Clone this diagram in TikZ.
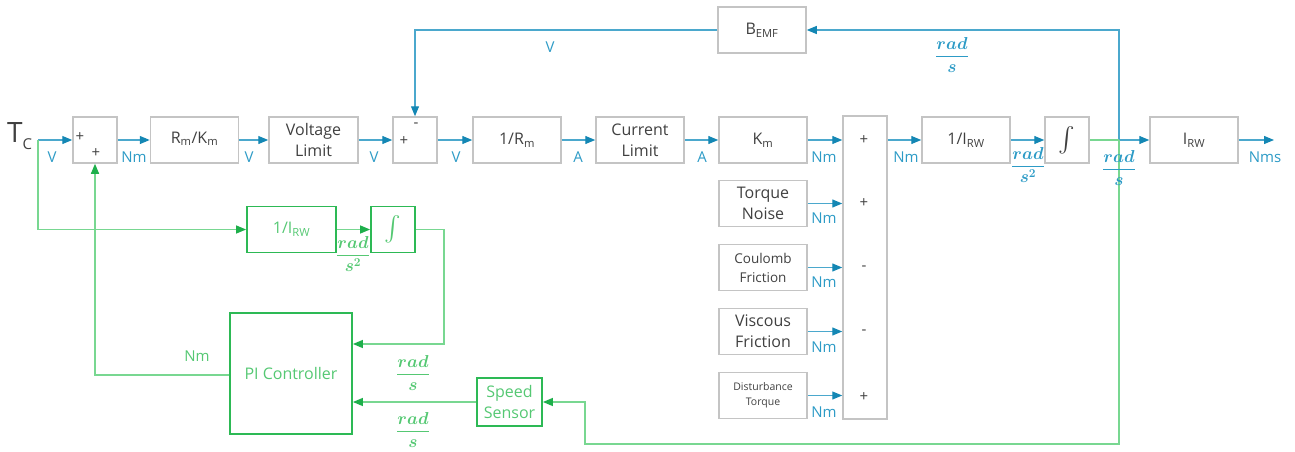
\documentclass[tikz,border=0pt]{standalone}
\usepackage{fontspec}
\setmainfont{Open Sans}
\usepackage{amsmath}
\usepackage{bm}
\usetikzlibrary{arrows.meta}
\definecolor{bline}{RGB}{75,168,205}
\definecolor{btip}{RGB}{20,135,180}
\definecolor{btext}{RGB}{45,155,198}
\definecolor{gline}{RGB}{120,215,145}
\definecolor{gtip}{RGB}{30,175,75}
\definecolor{gbord}{RGB}{45,185,85}
\definecolor{gtext}{RGB}{85,200,115}
\definecolor{gray}{RGB}{196,196,196}
\definecolor{tx}{RGB}{64,64,64}
\tikzset{
  box/.style={draw=gray, line width=1.5pt, minimum width=88pt, minimum height=46pt, inner sep=1pt, align=center, text=tx, font=\fontsize{16}{21}\selectfont},
  sbox/.style={box, minimum width=44pt},
  gbox/.style={draw=gbord, line width=1.8pt, minimum width=88pt, minimum height=46pt, inner sep=1pt, align=center, text=gtext, font=\fontsize{16}{21}\selectfont},
  arr/.style={draw=bline, line width=1.2pt, -{Triangle[length=10pt,width=8pt,color=btip]}},
  bl/.style={draw=bline, line width=1.2pt},
  garr/.style={draw=gline, line width=1.3pt, -{Triangle[length=10pt,width=8pt,color=gtip]}},
  gl/.style={draw=gline, line width=1.3pt},
  lbl/.style={text=btext, font=\fontsize{15}{15}\selectfont, inner sep=0pt},
  glbl/.style={text=gtext, font=\fontsize{15}{15}\selectfont, inner sep=0pt},
  sgn/.style={text=tx, font=\fontsize{15}{15}\selectfont, inner sep=0pt},
  frc/.style={inner sep=0pt, font=\fontsize{16.5}{16.5}\selectfont},
}
\newcommand{\rads}{$\dfrac{\bm{rad}}{\bm{s}}$}
\newcommand{\radss}{$\dfrac{\bm{rad}}{\bm{s^2}}$}
\begin{document}
\begin{tikzpicture}[x=1pt,y=-1pt]
\useasboundingbox (0,0) rectangle (1295,452);
% main row
\node[sbox] (sum1) at (95,140) {};
\node[box] (rmkm) at (194.5,140) {\raisebox{5pt}{R\textsubscript{m}/K\textsubscript{m}}};
\node[box, minimum width=89pt] (vlim) at (313.5,140) {Voltage\\Limit};
\node[sbox] (sum2) at (415,140) {};
\node[box] (invr) at (517,140) {1/R\textsubscript{m}};
\node[box] (clim) at (640,140) {Current\\Limit};
\node[box] (km) at (763,140) {K\textsubscript{m}};
\node[draw=gray, line width=1.5pt, minimum width=44pt, minimum height=303pt] (bsum) at (865,267.5) {};
\node[box] (invi) at (966,140) {1/I\textsubscript{RW}};
\node[sbox, font=\fontsize{23}{23}\selectfont] (integ) at (1067,140) {$\int$};
\node[box] (irw) at (1194,140) {I\textsubscript{RW}};
\node[box] (bemf) at (762,30) {B\textsubscript{EMF}};
% disturbance boxes
\node[box] (tn) at (763,203.5) {Torque\\Noise};
\node[box, font=\fontsize{13.5}{19}\selectfont] (cf) at (763,267.5) {Coulomb\\Friction};
\node[box] (vf) at (763,331.5) {Viscous\\Friction};
\node[box, font=\fontsize{10.5}{15}\selectfont] (dt) at (763,395.5) {Disturbance\\Torque};
% green
\node[gbox, minimum width=89pt] (gi) at (291.5,229.5) {1/I\textsubscript{RW}};
\node[gbox, minimum width=44pt, font=\fontsize{23}{23}\selectfont] (ginteg) at (393,229.5) {$\int$};
\node[gbox, minimum width=122pt, minimum height=121pt] (pi) at (291,373.5) {PI Controller};
\node[gbox, minimum width=65pt, minimum height=48pt] (speed) at (509.5,402) {Speed\\Sensor};
% signs
\node[sgn] (s1a) at (80,137) {+};
\node[sgn] (s1b) at (96,153) {+};
\node[sgn] (s2a) at (404,141) {+};
\node[sgn] (s2b) at (416,125) {-};
\node[sgn] (b1) at (864,140) {+};
\node[sgn] (b2) at (864,203) {+};
\node[sgn] (b3) at (864,268) {-};
\node[sgn] (b4) at (864,332) {-};
\node[sgn] (b5) at (864,397) {+};
% input
\node[inner sep=0pt, text=tx, anchor=west] (tc) at (7,136) {{\fontsize{28}{28}\selectfont T}\raisebox{-7pt}{\fontsize{15}{15}\selectfont C}};
\coordinate (tin) at (38,140);
\draw[arr] (tin) -- (sum1.west);
\draw[arr] (sum1.east) -- (rmkm.west);
\draw[arr] (rmkm.east) -- (vlim.west);
\draw[arr] (vlim.east) -- (sum2.west);
\draw[arr] (sum2.east) -- (invr.west);
\draw[arr] (invr.east) -- (clim.west);
\draw[arr] (clim.east) -- (km.west);
\draw[arr] (km.east) -- (km.east -| bsum.west);
\draw[arr] (bsum.east |- km.east) -- (invi.west);
\draw[arr] (invi.east) -- (integ.west);
\draw[arr] (tn.east) -- (tn.east -| bsum.west);
\draw[arr] (cf.east) -- (cf.east -| bsum.west);
\draw[arr] (vf.east) -- (vf.east -| bsum.west);
\draw[arr] (dt.east) -- (dt.east -| bsum.west);
\coordinate (split) at (1119,140);
\coordinate (outend) at (1274,140);
\draw[arr] (bemf.west) -| (sum2.north);
\draw[arr] (split) |- (bemf.east);
\draw[arr] (split) -- (irw.west);
\draw[arr] (irw.east) -- (outend);
% green connectors
\draw[gl] (integ.east) -- (split);
\coordinate (gbot) at (1119,444);
\coordinate (gleft) at (585,444);
\draw[garr] (split) -- (gbot) -- (gleft) |- (speed.east);
\draw[garr] (speed.west) -- (speed.west -| pi.east);
\coordinate (gturn) at (444,344);
\draw[garr] (ginteg.east) -| (gturn) -- (gturn -| pi.east);
\coordinate (pout) at (0,375);
\draw[garr] (pout -| pi.west) -| (sum1.south);
\draw[garr] (tin) |- (gi.west);
\draw[garr] (gi.east) -- (ginteg.west);
% blue labels
\node[lbl] (l1) at (52,157) {V};
\node[lbl] (l2) at (134,157) {Nm};
\node[lbl] (l3) at (249,157) {V};
\node[lbl] (l4) at (374,157) {V};
\node[lbl] (l5) at (456,157) {V};
\node[lbl] (l6) at (578,157) {A};
\node[lbl] (l7) at (702,157) {A};
\node[lbl] (l8) at (824,157) {Nm};
\node[lbl] (l9) at (906,157) {Nm};
\node[lbl] (l10) at (1265,157) {Nms};
\node[lbl] (l11) at (550,47) {V};
\node[lbl] (n1) at (824,218) {Nm};
\node[lbl] (n2) at (824,282) {Nm};
\node[lbl] (n3) at (824,347) {Nm};
\node[lbl] (n4) at (824,412) {Nm};
\node[frc, text=btext] (f1) at (952,55) {\rads};
\node[frc, text=btext] (f2) at (1028,165) {\radss};
\node[frc, text=btext] (f3) at (1119,168) {\rads};
% green labels
\node[glbl] (g1) at (197,356) {Nm};
\node[frc, text=gtext] (f4) at (353,254) {\radss};
\node[frc, text=gtext] (f5) at (413,373) {\rads};
\node[frc, text=gtext] (f6) at (413,430) {\rads};
\end{tikzpicture}
\end{document}
